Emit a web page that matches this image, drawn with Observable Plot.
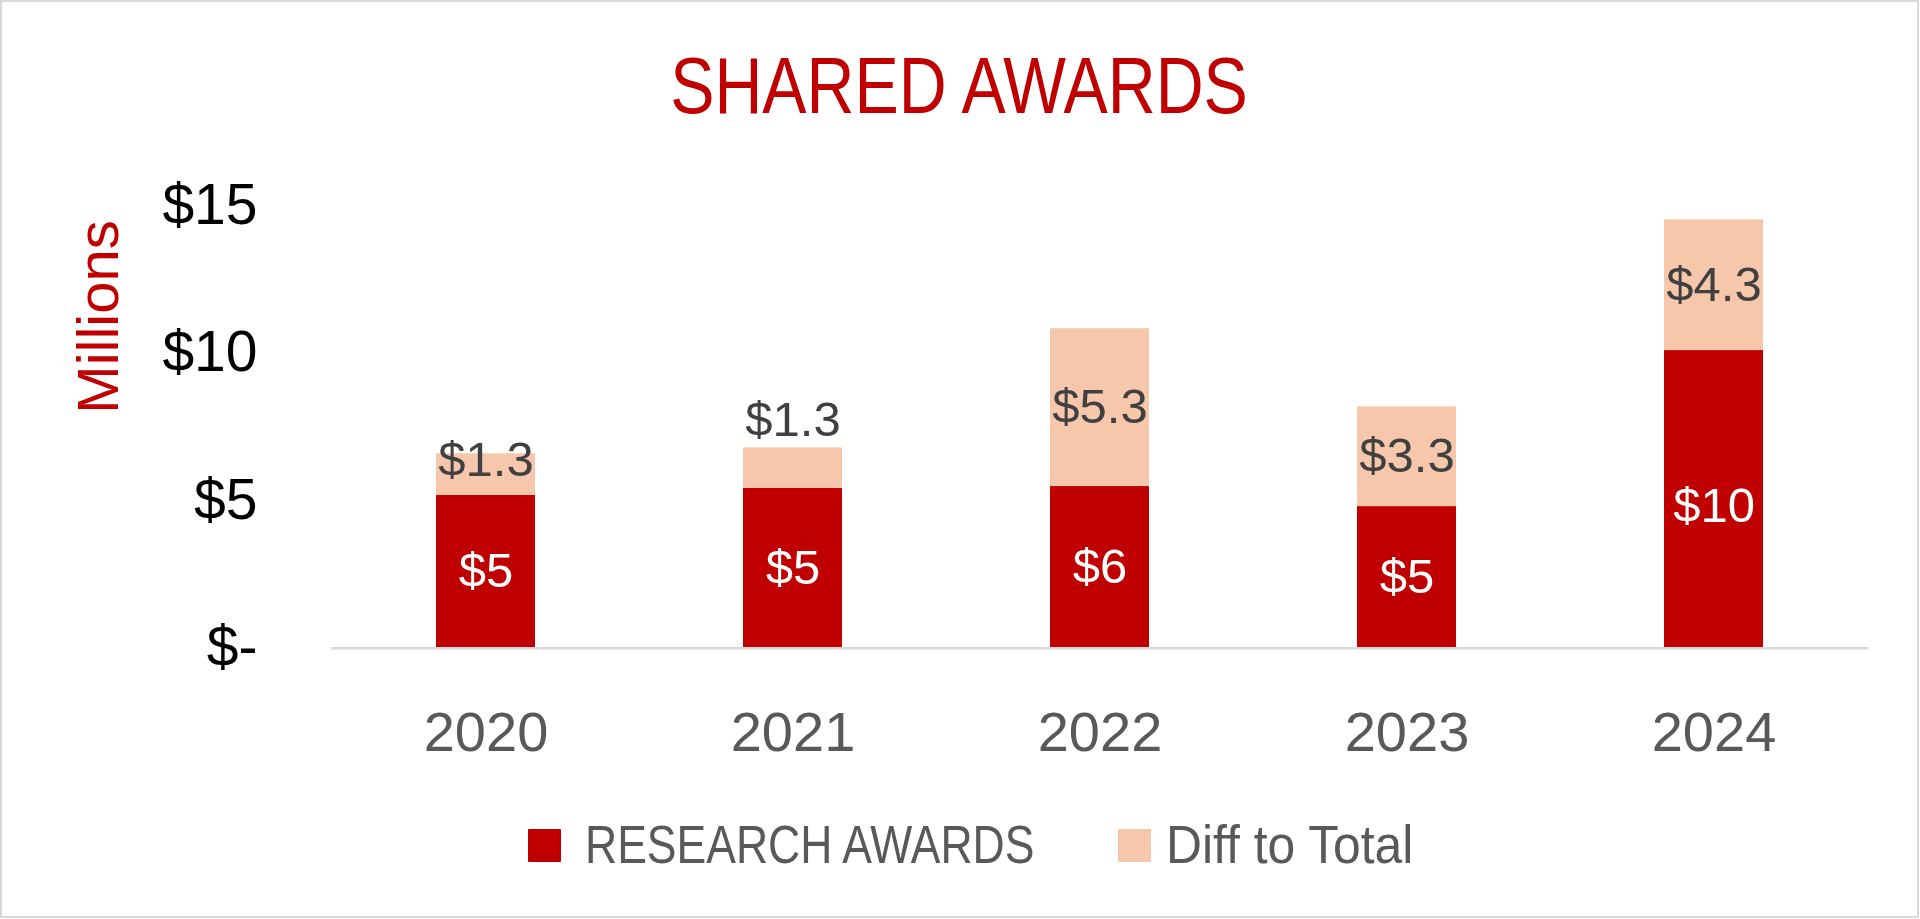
<!DOCTYPE html>
<html>
<head>
<meta charset="utf-8">
<script src="https://cdn.jsdelivr.net/npm/d3@7"></script>
<script src="https://cdn.jsdelivr.net/npm/@observablehq/plot@0.6"></script>
<style>
  html, body { margin: 0; padding: 0; background: #fff; }
  #frame { position: relative; width: 1920px; height: 919px; overflow: hidden; background: #fff; }
  #border { position: absolute; left: 0; top: 0; width: 1919px; height: 918px; border: 2.5px solid #d9d9d9; box-sizing: border-box; pointer-events: none; }
  #chart { position: absolute; left: 0; top: 0; }
  #title { position: absolute; left: 0; top: 46px; width: 1918px; text-align: center; font-family: "Liberation Sans", Arial, sans-serif; font-size: 79px; line-height: 79px; color: #c00000; white-space: nowrap; transform: scaleX(0.84); transform-origin: 959px 0; }
  #ylabel { position: absolute; left: 97.5px; top: 317px; transform: translate(-50%, -50%) rotate(-90deg); font-family: "Liberation Sans", Arial, sans-serif; font-size: 58px; line-height: 58px; color: #c00000; white-space: nowrap; }
  .legend-item { position: absolute; top: 818px; font-family: "Liberation Sans", Arial, sans-serif; font-size: 53px; line-height: 53px; color: #595959; white-space: nowrap; transform-origin: 0 0; }
  .swatch { position: absolute; width: 33px; height: 33px; top: 829px; border-radius: 1px; }
</style>
</head>
<body>
<div id="frame">
  <div id="title"></div>
  <div id="ylabel"></div>
  <div id="chart"></div>
  <div id="legend"></div>
  <div id="border"></div>
</div>
<script>
// ---- data (values in $ millions) ----
const chartTitle = "SHARED AWARDS";
const yAxisTitle = "Millions";
const years = ["2020", "2021", "2022", "2023", "2024"];
const seriesNames = ["RESEARCH AWARDS", "Diff to Total"];
const researchAwards = [5.18, 5.42, 5.48, 4.80, 10.09];
const diffToTotal = [1.41, 1.37, 5.35, 3.38, 4.43];
const researchLabels = ["$5", "$5", "$6", "$5", "$10"];
const diffLabels = ["$1.3", "$1.3", "$5.3", "$3.3", "$4.3"];
const yTicks = [0, 5, 10, 15];

// ---- styling ----
const seriesColors = ["#c00000", "#f7c7ac"];
const labelColors = ["#ffffff", "#404040"];
// label nudges (px) as placed by hand in the original
const researchLabelNudge = new Map([["2024", 7]]);
const diffLabelNudge = new Map([["2020", -14], ["2021", -47.5]]);

const rows = years.flatMap((year, i) => [
  {year, series: seriesNames[0], value: researchAwards[i], mid: researchAwards[i] / 2, label: researchLabels[i]},
  {year, series: seriesNames[1], value: diffToTotal[i], mid: researchAwards[i] + diffToTotal[i] / 2, label: diffLabels[i]}
]);

const researchRows = rows.filter(d => d.series === seriesNames[0]);
const diffRows = rows.filter(d => d.series === seriesNames[1]);
const researchGroups = d3.groups(researchRows, d => researchLabelNudge.get(d.year) ?? 0);
const diffGroups = d3.groups(diffRows, d => diffLabelNudge.get(d.year) ?? 0);

const plot = Plot.plot({
  width: 1920,
  height: 919,
  marginLeft: 331,
  marginRight: 51.5,
  marginTop: 205.2,
  marginBottom: 271.3,
  style: {fontFamily: '"Liberation Sans", Arial, sans-serif', background: "transparent", overflow: "visible"},
  x: {domain: years, paddingInner: 0.676, paddingOuter: 0.338, label: null},
  y: {domain: [0, 15], label: null},
  color: {domain: seriesNames, range: seriesColors},
  marks: [
    Plot.barY(rows, {x: "year", y: "value", fill: "series"}),
    Plot.ruleY([0], {stroke: "#d9d9d9", strokeWidth: 2.5}),
    Plot.axisY({ticks: yTicks, tickFormat: d => d === 0 ? "$-" : "$" + d, tickSize: 0, tickPadding: 74, fontSize: 57, color: "#000000", label: null}),
    Plot.axisX({tickSize: 0, tickPadding: 63, fontSize: 56, color: "#595959", label: null}),
    ...researchGroups.map(([dy, grp]) =>
      Plot.text(grp, {x: "year", y: "mid", text: "label", fill: labelColors[0], fontSize: 49, dy})),
    ...diffGroups.map(([dy, grp]) =>
      Plot.text(grp, {x: "year", y: "mid", text: "label", fill: labelColors[1], fontSize: 49, dy}))
  ]
});
document.getElementById("chart").appendChild(plot);

document.getElementById("title").textContent = chartTitle;
document.getElementById("ylabel").textContent = yAxisTitle;

// legend
const legend = document.getElementById("legend");
const legendSwatchX = [528, 1118];
const legendTextX = [585, 1166];
const legendTextScale = [0.84, 0.94];
seriesNames.forEach((name, i) => {
  const sw = document.createElement("div");
  sw.className = "swatch";
  sw.style.left = legendSwatchX[i] + "px";
  sw.style.background = seriesColors[i];
  legend.appendChild(sw);
  const tx = document.createElement("div");
  tx.className = "legend-item";
  tx.style.left = legendTextX[i] + "px";
  tx.style.transform = `scaleX(${legendTextScale[i]})`;
  tx.textContent = name;
  legend.appendChild(tx);
});
</script>
</body>
</html>
